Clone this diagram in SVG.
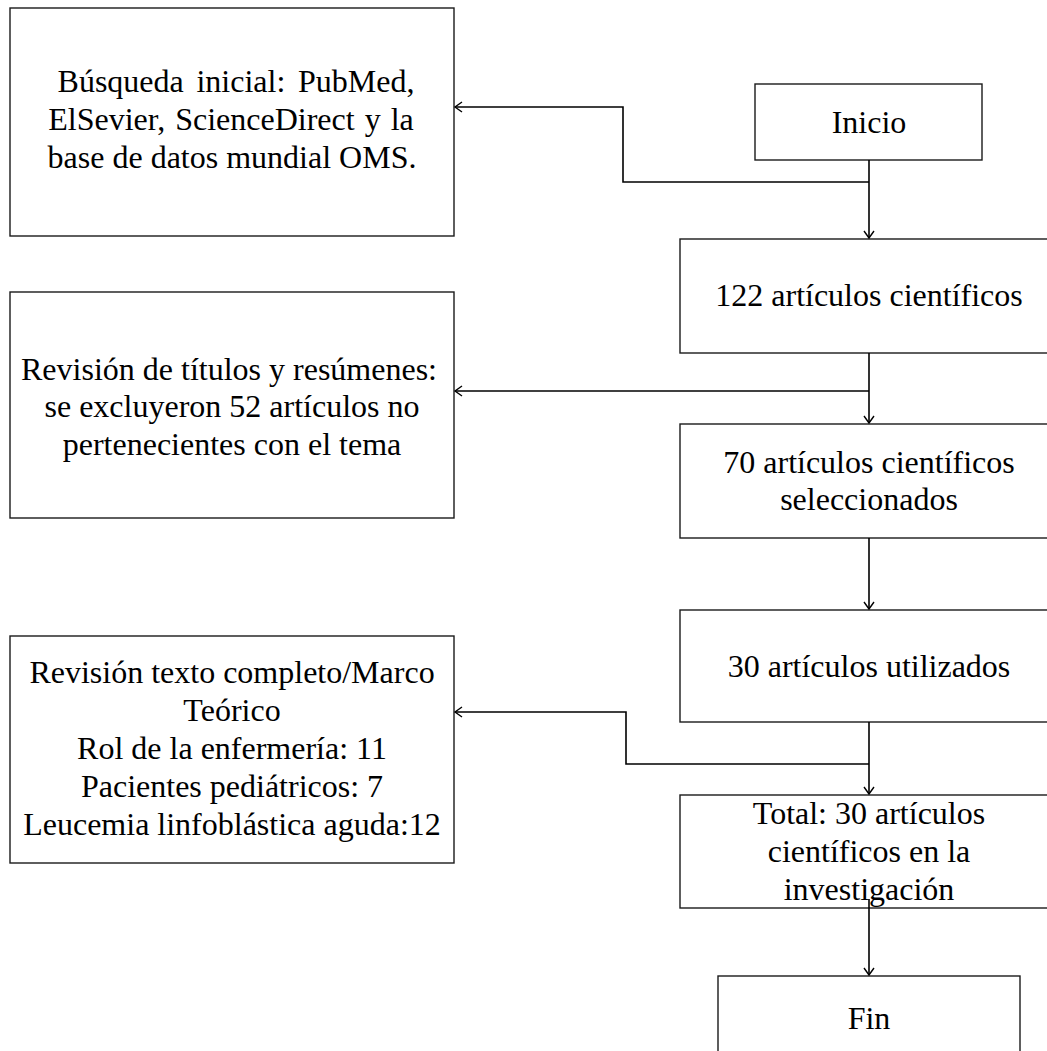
<svg xmlns="http://www.w3.org/2000/svg" width="1047" height="1051" viewBox="0 0 1047 1051">
<style>
.box{fill:#fff;stroke:#1a1a1a;stroke-width:1.4}
.t{font-family:"Liberation Serif","Times New Roman",serif;font-size:32px;fill:#000;text-anchor:middle}
.c{fill:none;stroke:#000;stroke-width:1.6}
</style>
<defs>
<marker id="ah" markerWidth="12" markerHeight="12" refX="9" refY="6" orient="auto" markerUnits="userSpaceOnUse">
<path d="M2,1 L9,6 L2,11" fill="none" stroke="#000" stroke-width="1.4"/>
</marker>
</defs>
<g id="n-busqueda">
<rect class="box" x="10" y="8" width="444" height="228"/>
<text class="t"><tspan x="236" y="92" word-spacing="4.7">Búsqueda inicial: PubMed,</tspan><tspan x="231" y="130" word-spacing="2">ElSevier, ScienceDirect y la</tspan><tspan x="232" y="168">base de datos mundial OMS.</tspan></text>
</g>
<g id="n-inicio">
<rect class="box" x="755" y="84" width="227" height="76"/>
<text class="t" x="869" y="133">Inicio</text>
</g>
<g id="n-122">
<rect class="box" x="680" y="239" width="378" height="114"/>
<text class="t" x="869" y="306">122 artículos científicos</text>
</g>
<g id="n-revision">
<rect class="box" x="10" y="292" width="444" height="226"/>
<text class="t"><tspan x="229" y="380">Revisión de títulos y resúmenes:</tspan><tspan x="232" y="417">se excluyeron 52 artículos no</tspan><tspan x="232" y="455">pertenecientes con el tema</tspan></text>
</g>
<g id="n-70">
<rect class="box" x="680" y="424" width="378" height="114"/>
<text class="t"><tspan x="869" y="473">70 artículos científicos</tspan><tspan x="869" y="510">seleccionados</tspan></text>
</g>
<g id="n-30">
<rect class="box" x="680" y="610" width="378" height="112"/>
<text class="t" x="869" y="677">30 artículos utilizados</text>
</g>
<g id="n-texto">
<rect class="box" x="10" y="636" width="444" height="227"/>
<text class="t"><tspan x="232" y="683">Revisión texto completo/Marco</tspan><tspan x="232" y="721">Teórico</tspan><tspan x="232" y="759">Rol de la enfermería: 11</tspan><tspan x="232" y="797">Pacientes pediátricos: 7</tspan><tspan x="232" y="835">Leucemia linfoblástica aguda:12</tspan></text>
</g>
<g id="n-total">
<rect class="box" x="680" y="795" width="378" height="113"/>
<text class="t"><tspan x="869" y="824">Total: 30 artículos</tspan><tspan x="869" y="862">científicos en la</tspan><tspan x="869" y="900">investigación</tspan></text>
</g>
<g id="n-fin">
<rect class="box" x="718" y="976" width="302" height="90"/>
<text class="t" x="869" y="1029">Fin</text>
</g>
<g id="connectors">
<path class="c" d="M869,160 V238" marker-end="url(#ah)"/>
<path class="c" d="M869,182 H623 V107 H455" marker-end="url(#ah)"/>
<path class="c" d="M869,353 V423" marker-end="url(#ah)"/>
<path class="c" d="M869,391 H455" marker-end="url(#ah)"/>
<path class="c" d="M869,538 V609" marker-end="url(#ah)"/>
<path class="c" d="M869,722 V794" marker-end="url(#ah)"/>
<path class="c" d="M869,764 H626 V712 H455" marker-end="url(#ah)"/>
<path class="c" d="M869,899 V975" marker-end="url(#ah)"/>
</g>
</svg>
